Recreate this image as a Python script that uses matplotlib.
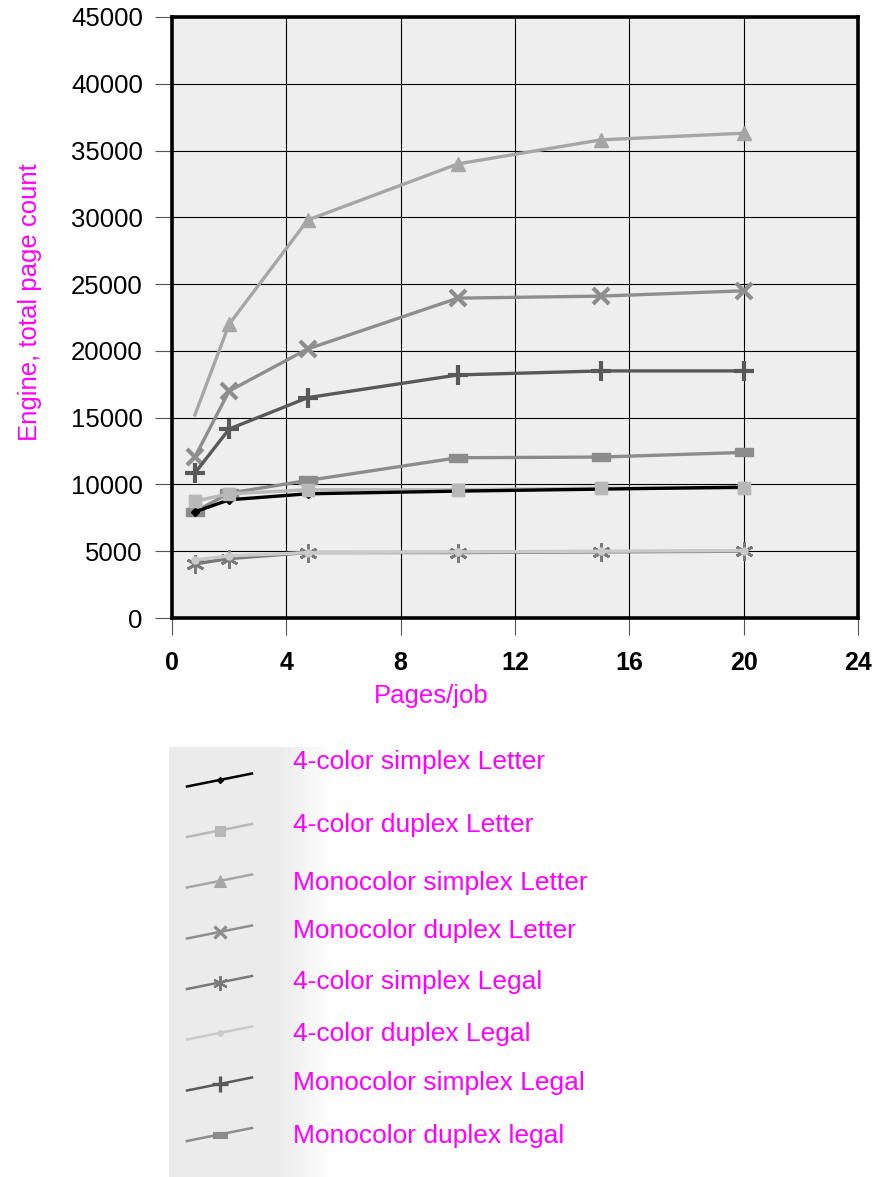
"""Engine total page count vs pages/job, 8 series, legend drawn below the plot."""

import matplotlib
matplotlib.use('Agg')
import matplotlib.pyplot as plt
import numpy as np

plt.rcParams['font.family'] = ['Liberation Sans', 'DejaVu Sans']

# ---- data ----
pages_per_job = [0.8, 2, 4.75, 10, 15, 20]

color_simplex_letter = [7950, 8850, 9300, 9500, 9650, 9800]
color_duplex_letter = [8750, 9300, 9600, 9600, 9720, 9720]
mono_simplex_letter = [15200, 22000, 29800, 34000, 35800, 36300]
mono_duplex_letter = [12050, 17000, 20150, 23950, 24100, 24500]
color_simplex_legal = [4050, 4450, 4900, 4900, 4950, 5000]
color_duplex_legal = [4350, 4650, 4900, 4950, 5000, 5050]
mono_simplex_legal = [10850, 14150, 16500, 18200, 18500, 18500]
mono_duplex_legal = [7950, 9350, 10300, 12000, 12050, 12400]

labels = ['4-color simplex Letter', '4-color duplex Letter', 'Monocolor simplex Letter',
          'Monocolor duplex Letter', '4-color simplex Legal', '4-color duplex Legal',
          'Monocolor simplex Legal', 'Monocolor duplex legal']

x_ticks = [0, 4, 8, 12, 16, 20, 24]
y_ticks = list(range(0, 45001, 5000))

MAGENTA = '#ff00ff'
dash = [(-1, -0.4), (1, -0.4), (1, 0.4), (-1, 0.4), (-1, -0.4)]

# (values, color, marker, markersize, mew, zorder, markevery)
series = [
    (color_simplex_letter, '#000000', 'D', 4, 1, 5, None),
    (color_duplex_letter, '#b8b8b8', 's', 9, 1, 4.5, None),
    (mono_simplex_letter, '#a6a6a6', '^', 10, 1, 4, [1, 2, 3, 4, 5]),
    (mono_duplex_letter, '#8e8e8e', 'x', 11, 3, 4, None),
    (color_simplex_legal, '#7a7a7a', (6, 2, 0), 13, 2, 4, None),
    (color_duplex_legal, '#cacaca', 'o', 5, 1, 5, None),
    (mono_simplex_legal, '#595959', '+', 15, 3, 4, None),
    (mono_duplex_legal, '#8c8c8c', dash, 13, 1, 3, None),
]

W, H = 888, 1177
fig = plt.figure(figsize=(W / 100, H / 100), dpi=100)
ax = fig.add_axes([172 / W, 1 - 618 / H, 686 / W, 601 / H])
ax.set_facecolor('#eeeeee')

for vals, color, marker, ms, mew, z, every in series:
    ax.plot(pages_per_job, vals, color=color, lw=2.4, marker=marker, ms=ms,
            mew=mew, mec=color, mfc=color, zorder=z, markevery=every,
            solid_joinstyle='miter')
# light squares sit on top of the black line
ax.plot(pages_per_job, color_duplex_letter, ls='none', marker='s', ms=9,
        color='#b8b8b8', zorder=6)

ax.set_xlim(0, 24)
ax.set_ylim(0, 45000)
ax.set_xticks(x_ticks)
ax.set_yticks(y_ticks)
ax.grid(True, color='black', lw=0.8)
ax.set_axisbelow(True)
for s in ax.spines.values():
    s.set_linewidth(2.6)
    s.set_color('black')
ax.tick_params(axis='both', direction='out', length=12, width=0.8, color='#555555')
ax.tick_params(axis='y', labelsize=18.5, pad=9)
ax.tick_params(axis='x', labelsize=18, pad=12)
for t in ax.get_xticklabels():
    t.set_fontweight('bold')

fig.text(30 / W, 1 - 302 / H, 'Engine, total page count', rotation=90,
         ha='center', va='center', color=MAGENTA, fontsize=18.5)
fig.text(431 / W, 1 - 696 / H, 'Pages/job', ha='center', va='center',
         color=MAGENTA, fontsize=18.5)

# ---- legend block below the chart ----
lax = fig.add_axes([169 / W, 0, (W - 169) / W, (H - 747) / H])
lax.set_xlim(169, W)
lax.set_ylim(H, 747)
lax.axis('off')
xs = np.arange(169, W)
shade = np.interp(xs, [169, 280, 330], [0.925, 0.925, 1.0])
lax.imshow(np.tile(shade, (2, 1))[:, :, None].repeat(3, axis=2),
           extent=[169, W, H, 747], aspect='auto', zorder=0)

sample_y = [780, 830.5, 881, 932, 982.5, 1033, 1084, 1134.5]
label_y = [769, 832, 890, 938, 989, 1041, 1090, 1143]
for (vals, color, marker, ms, mew, z, every), lab, sy, ty in zip(series, labels, sample_y,
                                                                 label_y):
    lax.plot([187, 252], [sy + 6.5, sy - 6.5], color=color, lw=1.8, zorder=2)
    lax.plot([219.5], [sy], color=color, marker=marker, ms=ms * 0.8, mew=mew * 0.8,
             mec=color, mfc=color, zorder=3)
    lax.text(293, ty, lab, color=MAGENTA, fontsize=19, ha='left', va='baseline')

fig.savefig('out.png', dpi=100)
